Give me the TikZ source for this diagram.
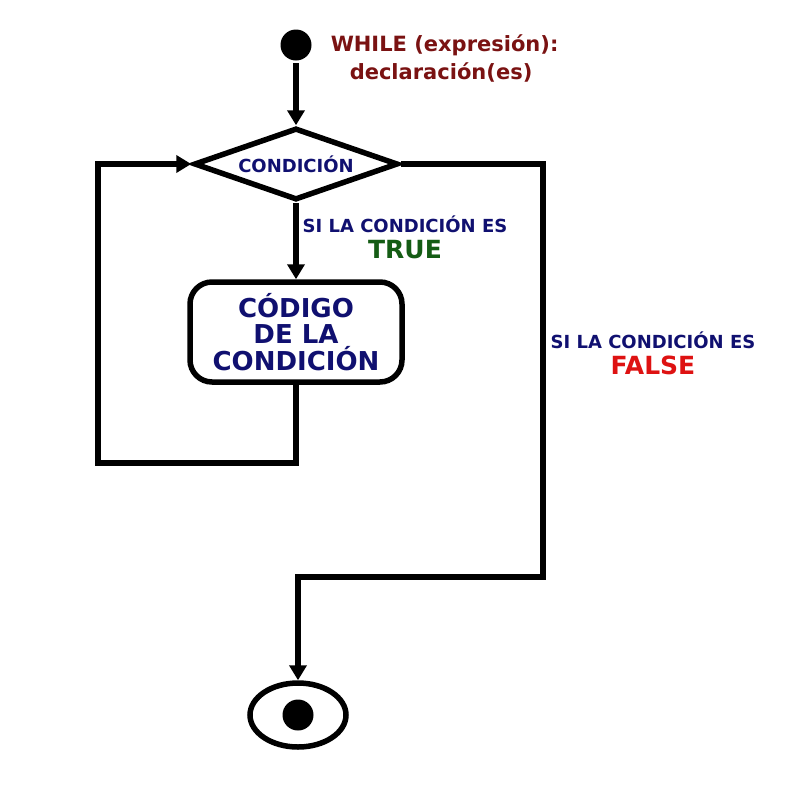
\documentclass[tikz,border=0pt]{standalone}
\usepackage{fontspec}
\setmainfont{DejaVu Sans}
\usetikzlibrary{shapes.geometric, positioning, arrows.meta}
\definecolor{navytxt}{RGB}{16,16,112}
\definecolor{whiletxt}{RGB}{122,18,18}
\definecolor{truetxt}{RGB}{20,92,20}
\definecolor{falsetxt}{RGB}{222,18,18}

\begin{document}
\begin{tikzpicture}[x=1pt, y=-1pt, line width=5.5pt, >={Triangle[width=17pt,length=15pt]}]
    \tikzstyle{dot}=[circle, fill=black, draw=none, minimum size=31pt, inner sep=0pt];
    \tikzstyle{cond}=[diamond, draw, aspect=2.8, inner sep=0pt, minimum width=204pt, minimum height=72pt, font=\bfseries\fontsize{18}{20}\selectfont, text=navytxt];
    \tikzstyle{code}=[draw, rectangle, rounded corners=22pt, minimum width=212pt, minimum height=100pt, align=center, font=\bfseries\fontsize{26}{26.5}\selectfont, text=navytxt];
    \tikzstyle{lbl}=[font=\bfseries\fontsize{18}{20}\selectfont, text=navytxt, inner sep=0pt];
    \tikzstyle{val}=[font=\bfseries\fontsize{25}{27}\selectfont, inner sep=0pt];
    \tikzstyle{title}=[font=\bfseries\fontsize{21}{23}\selectfont, text=whiletxt, anchor=west, inner sep=0pt];
    \useasboundingbox (0,0) rectangle (800,788);

    \node[dot] (start) at (296,45) {};
    \node[title] (while) at (328,45) {WHILE (expresión):};
    \node[title] (decl) at (347,72) {declaración(es)};
    \node[cond] (condition) at (296,164) {CONDICIÓN};
    \node[code] (body) at (296,332) {CÓDIGO\\DE LA\\CONDICIÓN};
    \node[ellipse, draw, minimum width=96pt, minimum height=64pt] (stop) at (298,715) {};
    \node[dot] (stopdot) at (stop) {};

    \node[lbl] (truelbl) at (405,224) {SI LA CONDICIÓN ES};
    \node[val, text=truetxt, below=2pt of truelbl] (trueval) {TRUE};
    \node[lbl] (falselbl) at (653,340) {SI LA CONDICIÓN ES};
    \node[val, text=falsetxt, below=2pt of falselbl] (falseval) {FALSE};

    \coordinate (loopcorner) at (98,463);
    \coordinate (exitcorner) at (543,577);

    \path[->]
    (start) edge (condition.north)
    (condition.south) edge (body.north);
    \draw[->] (body.south) |- (loopcorner) |- (condition.west);
    \draw[->] (condition.east) -| (exitcorner) -| (stop.north);
  \end{tikzpicture}
\end{document}
